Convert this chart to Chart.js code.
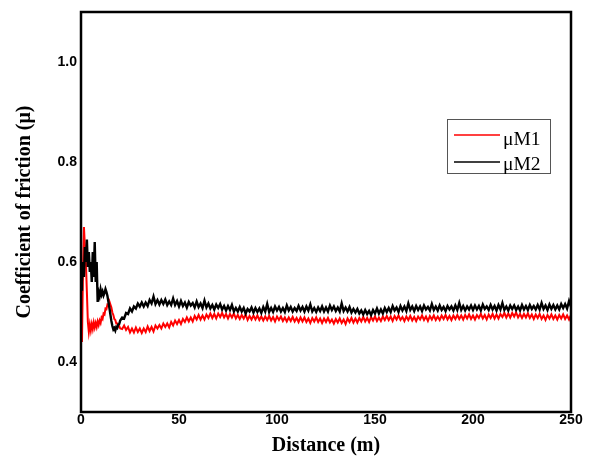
<!DOCTYPE html>
<html><head><meta charset="utf-8">
<script src="https://cdn.jsdelivr.net/npm/chart.js@4.4.1/dist/chart.umd.min.js"></script>
<style>html,body{margin:0;padding:0;background:#fff;} canvas{display:block;}</style>
</head><body>
<canvas id="c" width="593" height="458"></canvas>
<script>
// ---- data ----
const xTicks = [0, 50, 100, 150, 200, 250];
const yTicks = [0.4, 0.6, 0.8, 1.0];
const seriesNames = ['\u03bcM1', '\u03bcM2'];
const xTitle = 'Distance (m)';
const yTitle = 'Coefficient of friction (\u03bc)';

// first 20 m sampled every 0.5 m
const earlyDistance = [0,0.5,1,1.5,2,2.5,3,3.5,4,4.5,5,5.5,6,6.5,7,7.5,8,8.5,9,9.5,
  10,10.5,11,11.5,12,12.5,13,13.5,14,14.5,15,15.5,16,16.5,17,17.5,18,18.5,19,19.5,20];
const m1Early = [0.50,0.44,0.58,0.67,0.63,0.60,0.54,0.48,0.46,0.475,
  0.463,0.476,0.466,0.479,0.469,0.478,0.47,0.481,0.474,0.483,
  0.478,0.489,0.486,0.497,0.495,0.507,0.506,0.515,0.514,0.521,
  0.515,0.509,0.499,0.494,0.486,0.484,0.477,0.477,0.471,0.472,0.467];
const m2Early = [0.545,0.56,0.60,0.57,0.63,0.60,0.645,0.59,0.62,0.58,
  0.60,0.56,0.62,0.57,0.64,0.56,0.60,0.52,0.54,0.532,
  0.545,0.535,0.541,0.533,0.538,0.546,0.54,0.532,0.52,0.508,
  0.495,0.482,0.472,0.465,0.468,0.463,0.47,0.468,0.475,0.476,0.483];

// 21 m .. 250 m, one reading per metre
const m1Late = [
  0.466,0.473,0.464,0.470,0.459,0.467,0.459,0.469,0.460,0.467,
  0.458,0.467,0.460,0.471,0.462,0.470,0.461,0.473,0.467,0.474,
  0.467,0.477,0.470,0.477,0.469,0.480,0.473,0.483,0.476,0.484,
  0.476,0.486,0.480,0.489,0.481,0.489,0.481,0.492,0.485,0.494,
  0.485,0.493,0.485,0.495,0.488,0.497,0.488,0.496,0.487,0.497,
  0.490,0.498,0.489,0.496,0.487,0.496,0.489,0.497,0.487,0.494,
  0.486,0.494,0.487,0.495,0.484,0.492,0.485,0.493,0.485,0.493,
  0.484,0.491,0.483,0.491,0.484,0.492,0.483,0.490,0.481,0.491,
  0.484,0.491,0.482,0.489,0.481,0.489,0.482,0.490,0.481,0.488,
  0.480,0.489,0.481,0.489,0.480,0.487,0.478,0.488,0.481,0.489,
  0.480,0.487,0.478,0.487,0.480,0.488,0.479,0.485,0.477,0.486,
  0.479,0.487,0.478,0.485,0.476,0.487,0.480,0.488,0.479,0.487,
  0.479,0.488,0.481,0.490,0.481,0.488,0.480,0.490,0.483,0.491,
  0.482,0.489,0.482,0.491,0.484,0.492,0.484,0.491,0.482,0.492,
  0.485,0.493,0.484,0.490,0.482,0.491,0.484,0.492,0.483,0.490,
  0.482,0.491,0.485,0.493,0.484,0.491,0.482,0.492,0.485,0.493,
  0.484,0.491,0.484,0.493,0.486,0.494,0.485,0.492,0.484,0.493,
  0.486,0.494,0.486,0.493,0.485,0.494,0.487,0.495,0.486,0.493,
  0.485,0.494,0.488,0.496,0.487,0.494,0.485,0.495,0.488,0.496,
  0.487,0.495,0.487,0.496,0.490,0.498,0.489,0.497,0.489,0.498,
  0.491,0.499,0.489,0.496,0.488,0.496,0.489,0.497,0.488,0.495,
  0.486,0.495,0.488,0.496,0.486,0.493,0.484,0.494,0.487,0.495,
  0.486,0.493,0.485,0.494,0.487,0.495,0.486,0.493,0.485,0.494];
const m2Late = [
  0.489,0.487,0.498,0.496,0.507,0.501,0.511,0.507,0.517,0.511,
  0.519,0.511,0.519,0.512,0.524,0.517,0.531,0.516,0.524,0.515,
  0.524,0.516,0.525,0.514,0.521,0.514,0.527,0.514,0.522,0.511,
  0.522,0.512,0.519,0.509,0.520,0.513,0.518,0.509,0.521,0.510,
  0.517,0.508,0.523,0.509,0.517,0.507,0.514,0.505,0.515,0.508,
  0.516,0.505,0.512,0.503,0.512,0.504,0.514,0.501,0.508,0.501,
  0.510,0.501,0.508,0.497,0.506,0.501,0.509,0.499,0.508,0.500,
  0.507,0.498,0.510,0.501,0.516,0.500,0.508,0.500,0.511,0.503,
  0.510,0.501,0.508,0.500,0.513,0.503,0.510,0.501,0.508,0.502,
  0.512,0.503,0.510,0.501,0.511,0.503,0.515,0.501,0.508,0.500,
  0.509,0.502,0.511,0.501,0.509,0.501,0.513,0.504,0.511,0.502,
  0.509,0.501,0.517,0.502,0.509,0.501,0.510,0.499,0.506,0.499,
  0.506,0.497,0.503,0.495,0.504,0.496,0.502,0.494,0.504,0.497,
  0.507,0.497,0.505,0.497,0.508,0.500,0.508,0.500,0.512,0.503,
  0.509,0.500,0.512,0.503,0.511,0.502,0.517,0.504,0.511,0.502,
  0.512,0.504,0.511,0.502,0.513,0.505,0.510,0.503,0.516,0.504,
  0.511,0.503,0.513,0.504,0.510,0.502,0.512,0.505,0.511,0.503,
  0.513,0.504,0.518,0.504,0.512,0.503,0.511,0.505,0.513,0.504,
  0.513,0.505,0.512,0.503,0.515,0.506,0.511,0.504,0.514,0.505,
  0.512,0.503,0.514,0.505,0.518,0.504,0.511,0.503,0.513,0.506,
  0.513,0.504,0.511,0.503,0.514,0.505,0.512,0.504,0.514,0.506,
  0.512,0.505,0.514,0.505,0.518,0.506,0.513,0.504,0.515,0.506,
  0.514,0.505,0.513,0.505,0.516,0.508,0.516,0.507,0.522,0.510];

// ---- build point lists (sampling positions: early 0.5 m grid, then 1 m grid from 21 m) ----
function buildPoints(early, late) {
  const pts = earlyDistance.map((d, i) => ({x: d, y: early[i]}));
  late.forEach((v, i) => pts.push({x: 21 + i, y: v}));
  return pts;
}

const framePlugin = {
  id: 'frame',
  afterDatasetsDraw(chart) {
    const {ctx, chartArea: a} = chart;
    ctx.save();
    ctx.strokeStyle = '#000';
    ctx.lineWidth = 2.5;
    ctx.strokeRect(a.left, a.top, a.right - a.left, a.bottom - a.top);
    ctx.restore();
  }
};

const legendBoxPlugin = {
  id: 'legendBox',
  afterDraw(chart) {
    const {ctx} = chart;
    ctx.save();
    ctx.strokeStyle = '#555';
    ctx.lineWidth = 1;
    ctx.strokeRect(447.5, 119.5, 103, 54);
    const rows = [{c: '#ff0000', y: 135, base: 145}, {c: '#000000', y: 162, base: 170}];
    chart.data.datasets.forEach((ds, i) => {
      const r = rows[i];
      ctx.strokeStyle = r.c;
      ctx.lineWidth = 1.6;
      ctx.beginPath();
      ctx.moveTo(454, r.y);
      ctx.lineTo(500, r.y);
      ctx.stroke();
      ctx.fillStyle = '#000';
      ctx.font = '19.5px "Liberation Serif", "Times New Roman", serif';
      ctx.textBaseline = 'alphabetic';
      ctx.textAlign = 'left';
      ctx.fillText(ds.label, 503, r.base);
    });
    ctx.restore();
  }
};

new Chart(document.getElementById('c'), {
  type: 'line',
  data: {
    datasets: [
      {label: seriesNames[0], data: buildPoints(m1Early, m1Late), borderColor: '#ff0000', borderWidth: 2, pointRadius: 0, tension: 0, order: 1},
      {label: seriesNames[1], data: buildPoints(m2Early, m2Late), borderColor: '#000000', borderWidth: 2.4, pointRadius: 0, tension: 0, order: 0}
    ]
  },
  options: {
    responsive: false,
    animation: false,
    devicePixelRatio: 1,
    layout: {padding: {left: 0, top: 12, right: 22, bottom: 0}},
    plugins: {legend: {display: false}, tooltip: {enabled: false}},
    scales: {
      x: {
        type: 'linear', min: 0, max: 250,
        grid: {display: false, drawTicks: false},
        border: {display: false},
        afterBuildTicks(s) { s.ticks = xTicks.map(v => ({value: v})); },
        afterFit(s) { s.height = 46; s.paddingLeft = 0; s.paddingRight = 0; },
        ticks: {color: '#000', padding: 0, maxRotation: 0, font: {family: '"Liberation Sans", Arial, sans-serif', size: 14, weight: 'bold'}},
        title: {display: true, text: xTitle, color: '#000', padding: {top: 0, bottom: 0},
          font: {family: '"Liberation Serif", "Times New Roman", serif', size: 20, weight: 'bold'}}
      },
      y: {
        type: 'linear', min: 0.3, max: 1.1,
        grid: {display: false, drawTicks: false},
        border: {display: false},
        afterBuildTicks(s) { s.ticks = yTicks.map(v => ({value: v})); },
        afterFit(s) { s.width = 81; s.paddingTop = 0; s.paddingBottom = 0; },
        ticks: {color: '#000', padding: 4, callback: v => v.toFixed(1),
          font: {family: '"Liberation Sans", Arial, sans-serif', size: 14, weight: 'bold'}},
        title: {display: true, text: yTitle, color: '#000', padding: {top: 13, bottom: 0},
          font: {family: '"Liberation Serif", "Times New Roman", serif', size: 20, weight: 'bold'}}
      }
    }
  },
  plugins: [framePlugin, legendBoxPlugin]
});
</script>
</body></html>
